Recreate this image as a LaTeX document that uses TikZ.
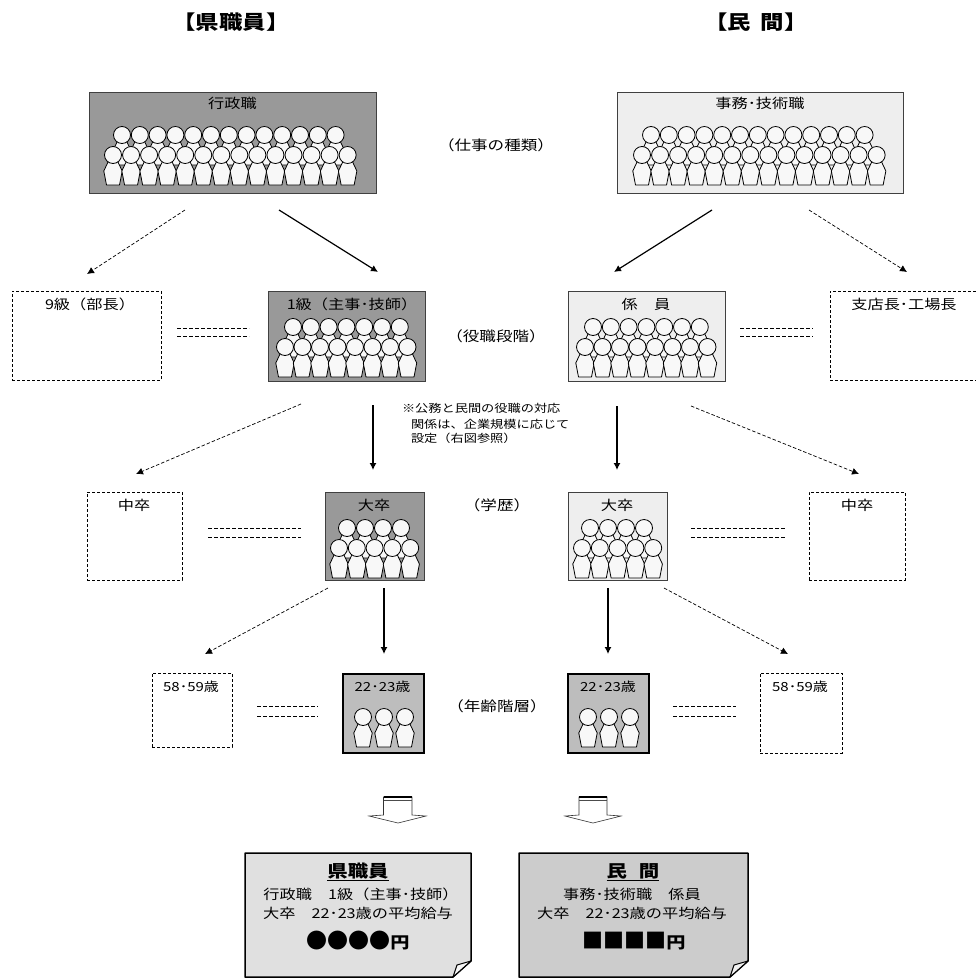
\documentclass[tikz,border=0pt]{standalone}
\usepackage{fontspec}
\setmainfont[FakeStretch=1.2]{Noto Sans CJK JP}
\newfontfamily\plainjp{Noto Sans CJK JP}
\usetikzlibrary{arrows.meta}
\definecolor{gA}{HTML}{999999}
\definecolor{gB}{HTML}{EEEEEE}
\definecolor{gC}{HTML}{BDBDBD}
\definecolor{gD}{HTML}{E0E0E0}
\definecolor{gE}{HTML}{CCCCCC}
\definecolor{skin}{HTML}{F8F8F8}
\newcommand{\fsz}[1]{\fontsize{#1}{#1}\selectfont}
\newcommand{\pers}[2]{%
  \pgfmathsetmacro{\pa}{#1}\pgfmathsetmacro{\pb}{#2}%
  \path[draw=black,fill=skin,line width=0.8pt,line join=round]
    (\pa-4.5,\pb+6) -- (\pa-9.2,\pb+16) -- (\pa-6.5,\pb+30) -- (\pa+6.5,\pb+30) -- (\pa+9.2,\pb+16) -- (\pa+4.5,\pb+6) -- cycle;
  \path[draw=black,fill=skin,line width=0.8pt] (\pa,\pb) circle (8.5);}
\newcommand{\crowd}[7]{%
  \foreach \i in {1,...,#3}{\pers{#1+(\i-1)*#2}{#4}}
  \foreach \i in {1,...,#7}{\pers{#5+(\i-1)*#6}{#4+20}}}
\newcommand{\conn}[4]{\coordinate (#2s) at (#3); \coordinate (#2e) at (#4); \draw[#1] (#2s) -- (#2e);}
\newcommand{\eqd}[4]{\conn{eqline}{#1a}{#2,#3}{#4,#3}}
\tikzset{
  every node/.style={inner sep=0pt,outer sep=0pt},
  dark/.style={draw=black!75,fill=gA,line width=1pt},
  light/.style={draw=black!75,fill=gB,line width=1pt},
  age/.style={draw=black,fill=gC,line width=1.6pt},
  open/.style={draw=black,dash pattern=on 3pt off 2pt,line width=0.8pt},
  solidarr/.style={draw=black,line width=1.2pt,-{Latex[length=7pt,width=7pt]}},
  dasharr/.style={draw=black,line width=0.7pt,dash pattern=on 3.5pt off 2pt,-{Latex[length=7pt,width=7pt]}},
  eqline/.style={draw=black,line width=0.7pt,dash pattern=on 4pt off 2pt},
  lab/.style={font=\fsz{13.5}},
  agelab/.style={font=\fsz{12.5}},
  axis/.style={font=\fsz{13.8}},
  small/.style={font=\fsz{11},anchor=west},
  title/.style={font=\fsz{19.5}\bfseries},
  noteline/.style={font=\fsz{13.5}},
  notehead/.style={font=\fsz{17}\bfseries},
  price/.style={font=\fsz{16}\bfseries},
  block/.style={draw=black!80,fill=white,line width=0.6pt},
  note/.style={draw=black,line width=1.5pt,line join=round}
}
\begin{document}
\begin{tikzpicture}[x=1pt,y=-1pt]
\useasboundingbox (0,0) rectangle (976,980);
% titles
\node[title] (t1) at (231,22) {【県職員】};
\node[title] (t2) at (756,22) {【民\hspace{.5em}間】};
% level 1
\node[dark,minimum width=287pt,minimum height=101pt] (a1) at (232.5,142.5) {};
\node[light,minimum width=286pt,minimum height=101pt] (b1) at (760,142.5) {};
\node[lab] (a1l) at (232.5,103) {行政職};
\node[lab] (b1l) at (760,103) {事務･技術職};
\crowd{122}{17.8}{13}{135}{113}{18.05}{14}
\crowd{651}{17.8}{13}{135}{642}{18.05}{14}
\node[axis] (x1) at (496,145) {（仕事の種類）};
% level 2
\node[open,minimum width=149pt,minimum height=89pt] (a2o) at (86.5,335.5) {};
\node[dark,minimum width=157pt,minimum height=90pt] (a2) at (346.5,336) {};
\node[light,minimum width=157pt,minimum height=90pt] (b2) at (646.5,336) {};
\node[open,minimum width=146pt,minimum height=89pt] (b2o) at (903,335.5) {};
\node[lab] (a2ol) at (90,304) {9級（部長）};
\node[lab] (a2l) at (352,304) {1級（主事･技師）};
\node[lab] (b2l) at (646,304) {係　員};
\node[lab] (b2ol) at (904,304) {支店長･工場長};
\crowd{293}{17.8}{7}{327}{285}{17.5}{8}
\crowd{593}{17.8}{7}{327}{585}{17.5}{8}
\node[axis] (x2) at (496,336) {（役職段階）};
\node[small] (n1) at (402,408.5) {※公務と民間の役職の対応};
\node[small] (n2) at (411,424) {関係は、企業規模に応じて};
\node[small] (n3) at (411,438) {設定（右図参照）};
% level 3
\node[open,minimum width=95pt,minimum height=88pt] (a3o) at (134.5,536) {};
\node[dark,minimum width=99pt,minimum height=88pt] (a3) at (374.5,536) {};
\node[light,minimum width=99pt,minimum height=88pt] (b3) at (617.5,536) {};
\node[open,minimum width=96pt,minimum height=88pt] (b3o) at (857,536) {};
\node[lab] (a3ol) at (134,505) {中卒};
\node[lab] (a3l) at (374,505) {大卒};
\node[lab] (b3l) at (617,505) {大卒};
\node[lab] (b3ol) at (857,505) {中卒};
\crowd{347}{18}{4}{528}{339}{17.8}{5}
\crowd{590}{18}{4}{528}{582}{17.8}{5}
\node[axis] (x3) at (497,505) {（学歴）};
% level 4
\node[open,minimum width=80pt,minimum height=74pt] (a4o) at (192,710) {};
\node[age,minimum width=81pt,minimum height=79pt] (a4) at (383.5,713.5) {};
\node[age,minimum width=81pt,minimum height=79pt] (b4) at (608.5,713.5) {};
\node[open,minimum width=82pt,minimum height=80pt] (b4o) at (801,713) {};
\node[agelab] (a4ol) at (191,687) {58･59歳};
\node[agelab] (a4l) at (382.5,687) {22･23歳};
\node[agelab] (b4l) at (608,687) {22･23歳};
\node[agelab] (b4ol) at (800,687) {58･59歳};
\foreach \px in {363,384,405}{\pers{\px}{717}}
\foreach \px in {588,609,630}{\pers{\px}{717}}
\node[axis] (x4) at (497,706) {（年齢階層）};
% arrows
\conn{dasharr}{q1}{185,210}{87,274}
\conn{solidarr}{q2}{279,210}{378,272}
\conn{solidarr}{q3}{712,210}{614,272}
\conn{dasharr}{q4}{809,210}{907,272}
\conn{dasharr}{q5}{301,404}{136,474}
\conn{solidarr}{q6}{373,405}{373,470}
\conn{solidarr}{q7}{617,406}{617,470}
\conn{dasharr}{q8}{691,406}{859,474}
\conn{dasharr}{q9}{328,588}{205,654}
\conn{solidarr}{q10}{384,588}{384,654}
\conn{solidarr}{q11}{608,588}{608,654}
\conn{dasharr}{q12}{664,588}{788,654}
% equals
\eqd{e1}{177}{328}{249} \eqd{e2}{177}{336}{249}
\eqd{e3}{740}{328}{813} \eqd{e4}{740}{336}{813}
\eqd{e5}{208}{528}{301} \eqd{e6}{208}{537}{301}
\eqd{e7}{691}{528}{786} \eqd{e8}{691}{537}{786}
\eqd{e9}{257}{706}{318} \eqd{e10}{257}{716}{318}
\eqd{e11}{673}{706}{736} \eqd{e12}{673}{716}{736}
% block arrows
\draw[block] (383.5,797) -- (412,797) -- (412,815) -- (426,816) -- (398,823) -- (369,816) -- (383.5,815) -- cycle;
\draw[line width=1.6pt] (383.5,797) -- (412,797);
\draw[line width=0.5pt,draw=black!70] (383.5,800.5) -- (412,800.5);
\draw[block] (579,797) -- (607,797) -- (607,815) -- (621,816) -- (593,823) -- (565,816) -- (579,815) -- cycle;
\draw[line width=1.6pt] (579,797) -- (607,797);
\draw[line width=0.5pt,draw=black!70] (579,800.5) -- (607,800.5);
% notes
\draw[note,fill=gD] (245,853) -- (471,853) -- (471,961) -- (453,977) -- (245,977) -- cycle;
\draw[draw=black,line width=1pt,fill=white!70!gD,line join=round] (471,961) -- (457,965) -- (453,977) -- cycle;
\draw[note,fill=gE] (519,853) -- (748,853) -- (748,961) -- (730,977) -- (519,977) -- cycle;
\draw[draw=black,line width=1pt,fill=white!70!gE,line join=round] (748,961) -- (734,965) -- (730,977) -- cycle;
\node[notehead] (c1) at (358,872) {\underline{県職員}};
\node[noteline] (c2) at (361,894) {行政職　1級（主事･技師）};
\node[noteline] (c3) at (358,913) {大卒　22･23歳の平均給与};
\node[price] (c4) at (358,941) {{\plainjp\fsz{21}●●●●}円};
\node[notehead] (d1) at (633,872) {\underline{民\hspace{.7em}間}};
\node[noteline] (d2) at (632,894) {事務･技術職　係員};
\node[noteline] (d3) at (632,913) {大卒　22･23歳の平均給与};
\node[price] (d4) at (634,941) {{\plainjp\fsz{21}■■■■}円};
\end{tikzpicture}
\end{document}
